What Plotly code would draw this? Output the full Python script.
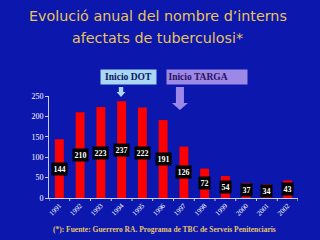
import plotly.graph_objects as go

years = ["1991", "1992", "1993", "1994", "1995", "1996", "1997", "1998", "1999", "2000", "2001", "2002"]
cases = [144, 210, 223, 237, 222, 191, 126, 72, 54, 37, 34, 43]
yticks = [0, 50, 100, 150, 200, 250]
title_lines = ["Evolució anual del nombre d’interns", "afectats de tuberculosi*"]

BG = "#0B17AD"
SERIF = "Liberation Serif"

fig = go.Figure()
fig.add_trace(go.Bar(x=list(range(len(years))), y=cases,
                     marker=dict(color="#FF0000", line=dict(width=0)),
                     width=0.43, hoverinfo="skip"))

for i, v in enumerate(cases):
    fig.add_annotation(x=i, y=v / 2, text=f"<b>{v}</b>", showarrow=False,
                       font=dict(family=SERIF, size=8, color="white"),
                       bgcolor="black", borderpad=1.5)

# Title (two lines, spaced as in the reference)
for line, ys in zip(title_lines, [80, 58]):
    fig.add_annotation(xref="paper", yref="paper", x=0.437, y=1.0, yshift=ys,
                       text=line, showarrow=False, xanchor="center", yanchor="middle",
                       font=dict(family="DejaVu Sans", size=14.3, color="#E9C458"))

# Boxes
fig.add_annotation(xref="x", yref="paper", x=3, y=1.0, yshift=19,
                   text="<b>Inicio DOT</b>", showarrow=False,
                   font=dict(family=SERIF, size=9.5, color="#0A1560"),
                   bgcolor="#A9D6F2", borderpad=1.5, xshift=7, yanchor="middle",
                   width=52, height=11)
fig.add_annotation(xref="x", yref="paper", x=5, y=1.0, yshift=19,
                   text="<b>Inicio TARGA</b>", showarrow=False,
                   font=dict(family=SERIF, size=9.5, color="#2A1060"),
                   bgcolor="#9C88E6", borderpad=1.5, xshift=44, yanchor="middle",
                   width=77, height=11, align="left")

# Footer
fig.add_annotation(xref="paper", yref="paper", x=0.465, y=0, yshift=-31,
                   text="<b>(*): Fuente: Guerrero RA. Programa de TBC de Serveis Penitenciaris</b>",
                   showarrow=False, xanchor="center", yanchor="middle",
                   font=dict(family=SERIF, size=7.5, color="#E4C46A"))

# Arrows
fig.add_shape(type="path", xref="x", yref="paper",
              path="M 2.864 1.088 L 3.076 1.088 L 3.076 1.039 L 3.187 1.039 L 2.97 0.99 L 2.753 1.039 L 2.864 1.039 Z",
              fillcolor="#A9D6F2", line=dict(width=0))
fig.add_shape(type="path", xref="x", yref="paper",
              path="M 5.617 1.088 L 6.003 1.088 L 6.003 0.931 L 6.196 0.931 L 5.81 0.863 L 5.424 0.931 L 5.617 0.931 Z",
              fillcolor="#9C88E6", line=dict(width=0))

fig.update_layout(
    width=320, height=240, autosize=False,
    margin=dict(l=49, r=22, t=96, b=42),
    paper_bgcolor=BG, plot_bgcolor=BG,
    showlegend=False,
    xaxis=dict(type="linear", showgrid=False, showline=True, linecolor="#C8D0F0", linewidth=1,
               tickmode="array", tickvals=list(range(len(years))), ticktext=years,
               ticks="", tickangle=-45, tickfont=dict(family=SERIF, size=7, color="white"),
               range=[-0.5, 11.5], zeroline=False, fixedrange=True),
    yaxis=dict(range=[0, 250], tickvals=yticks, showgrid=False, showline=True,
               linecolor="#C8D0F0", linewidth=1, ticks="outside", ticklen=3,
               tickcolor="#C8D0F0", zeroline=False,
               tickfont=dict(family=SERIF, size=8, color="white"), fixedrange=True),
)

# x-axis boundary tick marks
for b in [i + 0.5 for i in range(-1, len(years))]:
    fig.add_shape(type="line", xref="x", yref="paper", x0=b, x1=b, y0=0, y1=-0.03,
                  line=dict(color="#C8D0F0", width=1))

fig.write_html("out.html", config={"displayModeBar": False})
